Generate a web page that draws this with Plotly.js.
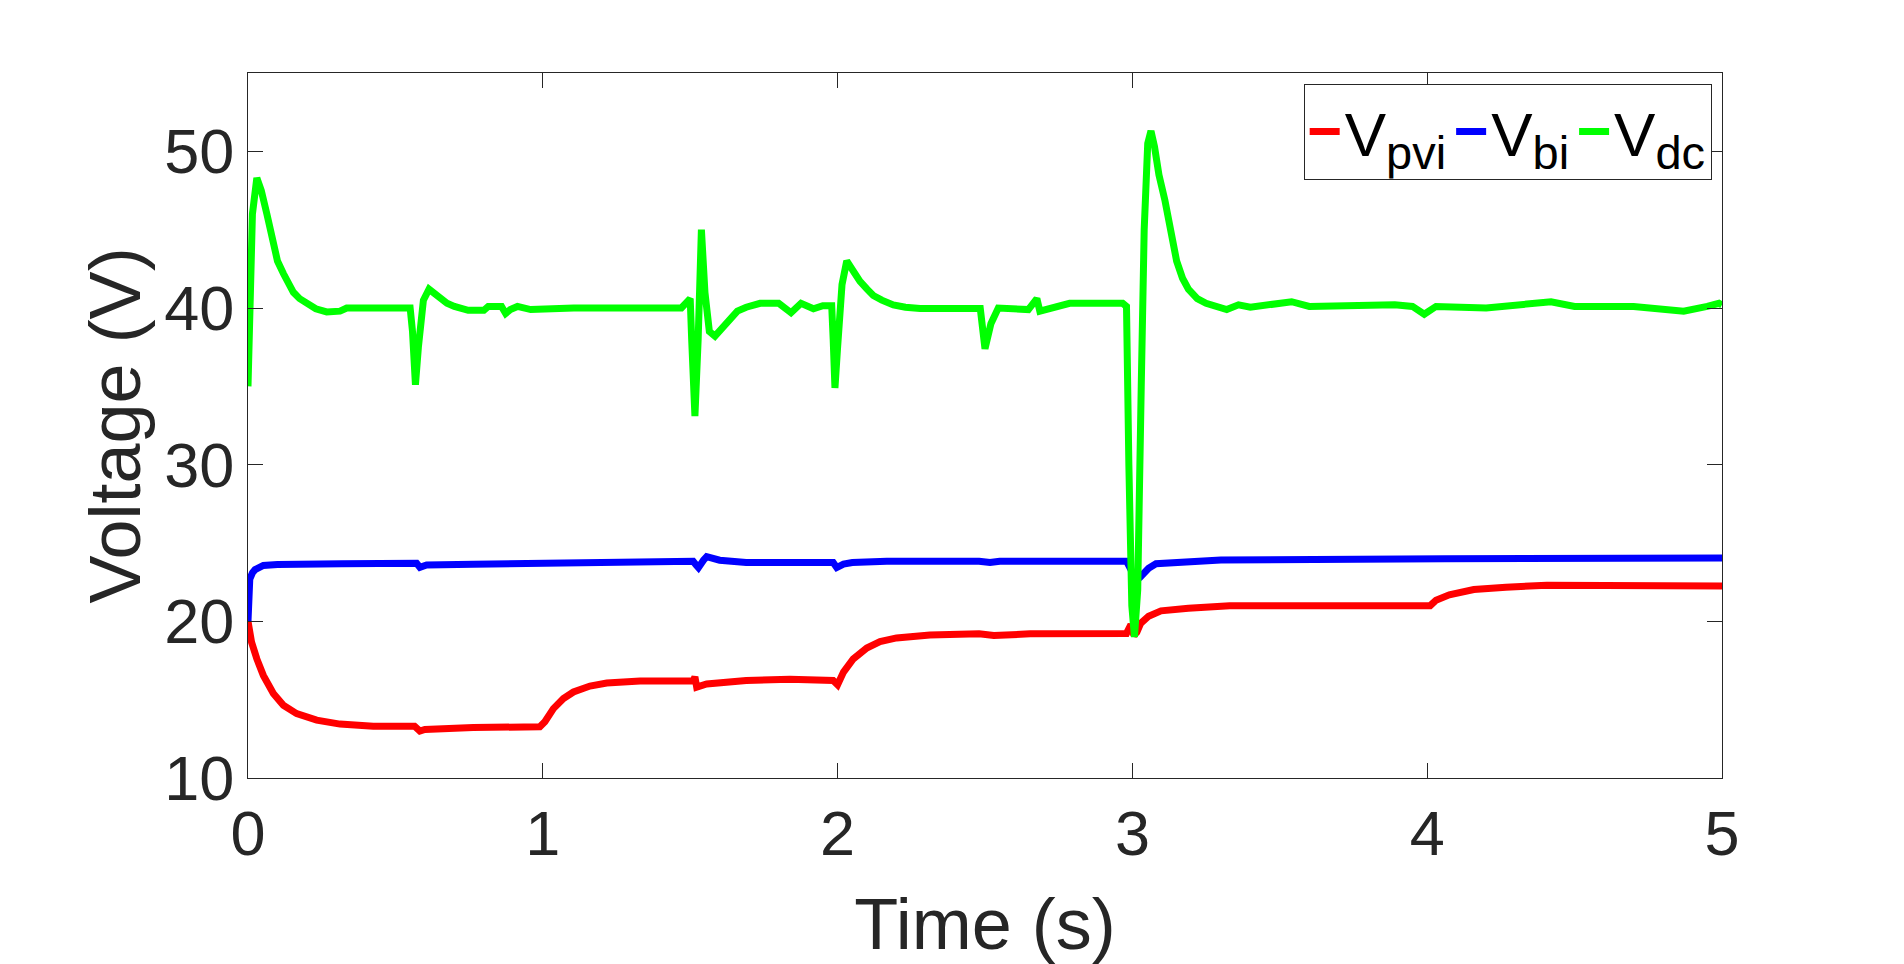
<!DOCTYPE html>
<html>
<head>
<meta charset="utf-8">
<script src="https://cdn.plot.ly/plotly-3.0.1.min.js"></script>
<style>
html,body{margin:0;padding:0;background:#fff;}
#chart{width:1904px;height:964px;}
</style>
</head>
<body>
<div id="chart"></div>
<script>
// ---- data ----
var seriesNames = ['V<sub><span style="font-size:47px">pvi</span></sub>', 'V<sub><span style="font-size:47px">bi</span></sub>', 'V<sub><span style="font-size:47px">dc</span></sub>'];

var tPvi = [0, 0.012, 0.03, 0.052, 0.086, 0.12, 0.165, 0.233, 0.312, 0.425, 0.565, 0.583, 0.6, 0.764, 0.99, 1.007, 1.036, 1.07, 1.104, 1.16, 1.217, 1.33, 1.51, 1.516, 1.522, 1.556, 1.69, 1.838, 1.985, 2.0, 2.02, 2.053, 2.099, 2.144, 2.2, 2.313, 2.48, 2.53, 2.653, 2.98, 2.995, 3.005, 3.015, 3.028, 3.055, 3.097, 3.19, 3.33, 4.01, 4.03, 4.075, 4.158, 4.267, 4.406, 5.0];
var vPvi = [20.0, 18.67, 17.6, 16.55, 15.4, 14.64, 14.11, 13.69, 13.44, 13.31, 13.31, 13.0, 13.1, 13.22, 13.27, 13.59, 14.43, 15.07, 15.49, 15.87, 16.06, 16.19, 16.21, 16.45, 15.8, 16.0, 16.23, 16.3, 16.23, 15.95, 16.76, 17.6, 18.3, 18.7, 18.94, 19.13, 19.2, 19.1, 19.2, 19.23, 19.8, 19.1, 19.3, 19.87, 20.33, 20.67, 20.83, 21.0, 21.0, 21.35, 21.69, 22.03, 22.18, 22.3, 22.25];

var tBi = [0, 0.003, 0.006, 0.015, 0.024, 0.052, 0.1, 0.318, 0.572, 0.583, 0.606, 0.764, 1.046, 1.216, 1.51, 1.52, 1.528, 1.545, 1.556, 1.6, 1.69, 1.9, 1.985, 1.997, 2.02, 2.05, 2.167, 2.48, 2.517, 2.55, 2.98, 2.995, 3.01, 3.025, 3.04, 3.055, 3.08, 3.3, 4.06, 5.0];
var vBi = [20.0, 21.5, 22.7, 23.1, 23.3, 23.57, 23.62, 23.68, 23.7, 23.45, 23.6, 23.65, 23.75, 23.8, 23.83, 23.6, 23.43, 23.9, 24.13, 23.9, 23.75, 23.75, 23.75, 23.43, 23.65, 23.75, 23.84, 23.84, 23.75, 23.84, 23.84, 23.3, 22.6, 22.8, 23.1, 23.39, 23.68, 23.91, 24.0, 24.05];

var tDc = [0, 0.005, 0.015, 0.03, 0.045, 0.064, 0.086, 0.1, 0.12, 0.137, 0.154, 0.175, 0.199, 0.23, 0.267, 0.312, 0.335, 0.55, 0.558, 0.568, 0.578, 0.595, 0.614, 0.63, 0.65, 0.675, 0.7, 0.747, 0.8, 0.815, 0.86, 0.874, 0.89, 0.914, 0.959, 1.105, 1.47, 1.5, 1.505, 1.516, 1.527, 1.538, 1.55, 1.565, 1.584, 1.61, 1.635, 1.66, 1.69, 1.737, 1.8, 1.842, 1.876, 1.918, 1.95, 1.98, 1.985, 1.991, 2.0, 2.015, 2.031, 2.05, 2.076, 2.1, 2.121, 2.15, 2.189, 2.23, 2.28, 2.484, 2.49, 2.5, 2.52, 2.545, 2.647, 2.676, 2.686, 2.787, 2.967, 2.98, 2.988, 2.998, 3.007, 3.018, 3.03, 3.04, 3.052, 3.063, 3.075, 3.09, 3.11, 3.13, 3.15, 3.17, 3.19, 3.22, 3.25, 3.32, 3.36, 3.4, 3.45, 3.54, 3.6, 3.7, 3.89, 3.95, 3.99, 4.03, 4.2, 4.42, 4.5, 4.7, 4.87, 4.95, 4.99, 5.0];
var vDc = [35.0, 40.0, 46.0, 48.3, 47.5, 46.0, 43.9, 43.0, 42.2, 41.5, 41.0, 40.6, 40.3, 39.95, 39.75, 39.8, 40.0, 40.0, 38.5, 35.1, 37.5, 40.5, 41.2, 40.95, 40.6, 40.3, 40.1, 39.85, 39.85, 40.1, 40.1, 39.65, 39.9, 40.1, 39.9, 40.0, 40.0, 40.6, 38.0, 33.1, 38.0, 45.0, 41.0, 38.5, 38.2, 38.8, 39.4, 39.8, 40.05, 40.3, 40.3, 39.7, 40.3, 39.95, 40.15, 40.15, 38.0, 34.9, 37.5, 41.5, 43.0, 42.4, 41.7, 41.2, 40.8, 40.5, 40.2, 40.05, 39.97, 39.97, 38.5, 37.4, 39.0, 40.0, 39.9, 40.6, 39.8, 40.3, 40.3, 40.1, 30.0, 21.0, 19.0, 22.0, 35.0, 45.0, 50.5, 51.3, 50.3, 48.5, 46.9, 44.8, 43.0, 41.9, 41.2, 40.6, 40.3, 39.9, 40.2, 40.05, 40.15, 40.4, 40.1, 40.15, 40.2, 40.1, 39.6, 40.1, 40.0, 40.4, 40.1, 40.1, 39.8, 40.1, 40.3, 40.2];

var xTicks = [0, 1, 2, 3, 4, 5];
var yTicks = [10, 20, 30, 40, 50];
var xTitle = 'Time (s)';
var yTitle = 'Voltage (V)';

// ---- drawing ----
var FONT = 'Liberation Sans, Arial, Helvetica, sans-serif';
var INK = '#262626';
var colors = ['#ff0000', '#0000ff', '#00ff00'];

var traces = [
  {x: tPvi, y: vPvi, name: seriesNames[0]},
  {x: tBi, y: vBi, name: seriesNames[1]},
  {x: tDc, y: vDc, name: seriesNames[2]}
].map(function (tr, i) {
  tr.type = 'scatter';
  tr.mode = 'lines';
  tr.line = {color: colors[i], width: 7};
  return tr;
});

var axisCommon = {
  showgrid: false,
  zeroline: false,
  showline: true,
  linecolor: INK,
  linewidth: 1,
  mirror: 'ticks',
  ticks: 'inside',
  ticklen: 15,
  tickwidth: 1,
  tickcolor: INK,
  tickfont: {family: FONT, size: 63, color: INK}
};

var layout = {
  width: 1904,
  height: 964,
  paper_bgcolor: '#ffffff',
  plot_bgcolor: '#ffffff',
  margin: {l: 248, r: 182, t: 73, b: 186},
  showlegend: true,
  font: {family: FONT, color: INK},
  xaxis: Object.assign({}, axisCommon, {
    range: [0, 5],
    tickmode: 'array',
    tickvals: xTicks,
    ticktext: xTicks.map(String),
    title: {text: xTitle, font: {family: FONT, size: 72, color: INK}, standoff: 32}
  }),
  yaxis: Object.assign({}, axisCommon, {
    range: [10, 55],
    tickmode: 'array',
    tickvals: yTicks,
    ticktext: yTicks.map(String),
    title: {text: yTitle, font: {family: FONT, size: 72, color: INK}, standoff: 0}
  }),
  legend: {
    orientation: 'h',
    x: 0.993,
    xanchor: 'right',
    y: 0.985,
    yanchor: 'top',
    bgcolor: '#ffffff',
    bordercolor: INK,
    borderwidth: 1,
    font: {family: FONT, size: 62, color: '#000000'},
    itemwidth: 30,
    tracegroupgap: 0
  }
};

Plotly.newPlot('chart', traces, layout, {staticPlot: true, displayModeBar: false});
</script>
</body>
</html>
